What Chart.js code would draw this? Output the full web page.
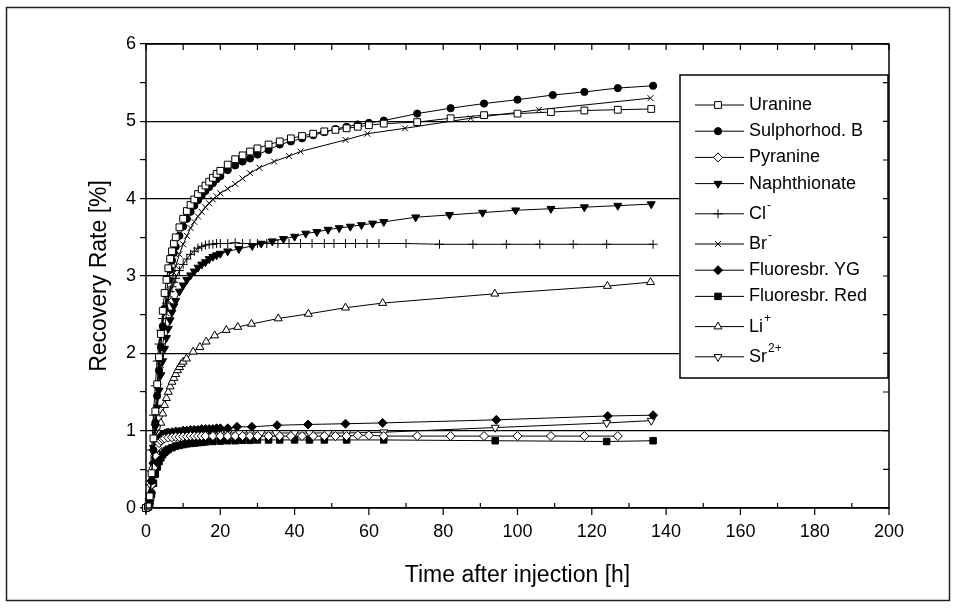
<!DOCTYPE html>
<html>
<head>
<meta charset="utf-8">
<script src="https://cdn.jsdelivr.net/npm/chart.js@4.4.1/dist/chart.umd.min.js"></script>
<style>
  html, body { margin: 0; padding: 0; background: #fff; }
</style>
</head>
<body>
<canvas id="canvas" width="956" height="610"></canvas>
<script>
// [hours after injection, recovery rate %]
var uranine = [[0,0],[0.5,0.02],[1,0.15],[1.5,0.45],[2,0.9],[2.5,1.25],[3,1.6],[3.5,1.95],[4,2.25],[4.5,2.55],[5,2.78],[5.5,2.95],[6,3.1],[6.5,3.22],[7,3.32],[7.5,3.42],[8,3.5],[9,3.63],[10,3.74],[11,3.84],[12,3.92],[13,3.99],[14,4.06],[15,4.12],[16,4.17],[17,4.22],[18,4.27],[19,4.32],[20,4.36],[22,4.44],[24,4.51],[26,4.56],[28,4.61],[30,4.65],[33,4.7],[36,4.74],[39,4.78],[42,4.81],[45,4.84],[48,4.87],[51,4.89],[54,4.91],[57,4.93],[60,4.95],[64,4.97],[73,4.99],[82,5.04],[91,5.08],[100,5.1],[109,5.12],[118,5.14],[127,5.15],[136,5.16]];
var sulphorhodB = [[0,0],[0.5,0.01],[1,0.1],[1.5,0.35],[2,0.75],[2.5,1.1],[3,1.45],[3.5,1.78],[4,2.08],[4.5,2.35],[5,2.58],[5.5,2.78],[6,2.95],[6.5,3.08],[7,3.2],[7.5,3.3],[8,3.38],[9,3.52],[10,3.64],[11,3.74],[12,3.83],[13,3.91],[14,3.98],[15,4.04],[16,4.1],[17,4.15],[18,4.2],[19,4.25],[20,4.29],[22,4.37],[24,4.43],[26,4.48],[28,4.52],[30,4.57],[33,4.63],[36,4.7],[39,4.74],[42,4.78],[45,4.82],[48,4.86],[51,4.9],[54,4.93],[57,4.96],[60,4.98],[64,5.01],[73,5.1],[82,5.17],[91,5.23],[100,5.28],[109.5,5.34],[118,5.38],[127,5.43],[136.5,5.46]];
var pyranine = [[0,0],[0.5,0.02],[1,0.1],[1.5,0.3],[2,0.52],[2.5,0.68],[3,0.78],[3.5,0.84],[4,0.87],[4.5,0.89],[5,0.9],[6,0.91],[7,0.915],[8,0.92],[9,0.92],[10,0.925],[11,0.925],[12,0.93],[13,0.93],[14,0.93],[15,0.93],[16,0.93],[18,0.93],[20,0.93],[22,0.93],[24,0.93],[26,0.93],[28,0.93],[30,0.93],[33,0.93],[36,0.93],[39,0.93],[42,0.93],[45,0.93],[48,0.93],[51,0.93],[54,0.93],[57,0.94],[60,0.94],[64,0.93],[73,0.93],[82,0.93],[91,0.93],[100,0.93],[109,0.93],[118,0.93],[127,0.93]];
var naphthionate = [[0,0],[0.5,0.01],[1,0.15],[1.5,0.45],[2,0.78],[2.5,1.05],[3,1.3],[3.5,1.52],[4,1.72],[4.5,1.9],[5,2.06],[5.5,2.2],[6,2.32],[6.5,2.43],[7,2.53],[7.5,2.61],[8,2.68],[9,2.8],[10,2.88],[11,2.95],[12,3.01],[13,3.06],[14,3.11],[15,3.15],[16,3.18],[17,3.22],[18,3.25],[19,3.27],[20,3.29],[22,3.32],[25,3.35],[28.6,3.39],[31,3.42],[34,3.45],[37,3.48],[40,3.51],[43,3.55],[46,3.57],[49,3.6],[52,3.62],[55,3.64],[58,3.66],[61,3.68],[64,3.7],[72.6,3.76],[81.7,3.79],[90.6,3.82],[99.5,3.85],[109,3.87],[118,3.89],[127,3.91],[136,3.93]];
var chloride = [[0,0],[0.5,0.02],[1,0.3],[1.5,0.75],[2,1.2],[2.5,1.58],[3,1.9],[3.5,2.12],[4,2.3],[4.5,2.45],[5,2.56],[5.5,2.65],[6,2.73],[6.5,2.8],[7,2.86],[7.5,2.92],[8,2.97],[9,3.07],[10,3.15],[11,3.22],[12,3.28],[13,3.32],[14,3.36],[15,3.38],[16,3.4],[17,3.41],[18,3.41],[19,3.42],[20,3.42],[22,3.42],[24,3.43],[26,3.42],[28,3.42],[30,3.42],[32.5,3.42],[35.5,3.42],[38.5,3.42],[41.6,3.42],[44.7,3.42],[48,3.42],[50.6,3.42],[53.7,3.42],[56.4,3.42],[59.5,3.42],[62.7,3.42],[70,3.42],[79,3.41],[88,3.41],[97,3.41],[106,3.41],[115,3.41],[124,3.41],[136.5,3.41]];
var bromide = [[0,0],[0.5,0.01],[1,0.08],[1.5,0.3],[2,0.62],[2.5,0.95],[3,1.27],[3.5,1.57],[4,1.85],[4.5,2.1],[5,2.32],[5.5,2.52],[6,2.68],[6.5,2.82],[7,2.94],[7.5,3.04],[8,3.13],[9,3.28],[10,3.41],[11,3.52],[12,3.62],[13,3.7],[14,3.77],[15,3.83],[16,3.89],[17,3.94],[18,3.99],[19,4.03],[20,4.07],[22,4.13],[24,4.19],[26,4.26],[28,4.33],[30.5,4.4],[34.5,4.48],[38.5,4.55],[41.6,4.61],[53.7,4.76],[59.6,4.84],[69.7,4.91],[87.4,5.04],[105.8,5.15],[135.8,5.3]];
var fluoresbrYG = [[0,0],[0.5,0.02],[1,0.12],[1.5,0.35],[2,0.58],[2.5,0.75],[3,0.85],[3.5,0.9],[4,0.93],[4.5,0.95],[5,0.96],[5.5,0.97],[6,0.975],[7,0.98],[8,0.99],[9,0.99],[10,1.0],[11,1.0],[12,1.01],[13,1.01],[14,1.01],[15,1.02],[16,1.02],[17,1.02],[18,1.02],[19,1.03],[20,1.03],[22,1.03],[24.5,1.05],[28.5,1.05],[35.3,1.07],[43.6,1.08],[53.7,1.09],[63.7,1.1],[94.3,1.14],[124.3,1.19],[136.5,1.2]];
var fluoresbrRed = [[0,0],[0.5,0.01],[1,0.05],[1.5,0.18],[2,0.32],[2.5,0.44],[3,0.53],[3.5,0.6],[4,0.65],[4.5,0.69],[5,0.72],[5.5,0.74],[6,0.76],[7,0.78],[8,0.8],[9,0.81],[10,0.82],[11,0.83],[12,0.835],[13,0.84],[14,0.845],[15,0.85],[16,0.855],[18,0.86],[20,0.865],[22,0.87],[24,0.87],[26,0.875],[28,0.875],[30,0.88],[33,0.88],[36,0.88],[40,0.88],[44,0.88],[48,0.88],[54,0.88],[64,0.88],[94,0.87],[124,0.86],[136.5,0.87]];
var lithium = [[0,0],[0.5,0.01],[1,0.08],[1.5,0.22],[2,0.42],[2.5,0.62],[3,0.8],[3.5,0.96],[4,1.1],[4.5,1.22],[5,1.33],[5.5,1.42],[6,1.5],[6.5,1.57],[7,1.63],[7.5,1.68],[8,1.73],[8.5,1.78],[9,1.82],[9.5,1.86],[10,1.89],[10.9,1.93],[12.7,2.02],[14.5,2.08],[16.2,2.15],[18.5,2.23],[21.6,2.3],[24.7,2.34],[28.4,2.38],[35.6,2.45],[43.7,2.51],[53.7,2.59],[63.7,2.65],[93.9,2.77],[124.2,2.87],[135.8,2.92]];
var strontium = [[0,0],[0.5,0.02],[1,0.1],[1.5,0.32],[2,0.55],[2.5,0.72],[3,0.82],[3.5,0.87],[4,0.9],[4.5,0.92],[5,0.93],[6,0.94],[7,0.945],[8,0.95],[9,0.95],[10,0.955],[11,0.96],[12,0.96],[14,0.96],[16,0.965],[18,0.97],[20,0.97],[22,0.97],[25,0.97],[28,0.97],[31,0.97],[35,0.97],[40,0.97],[44,0.97],[49,0.97],[54,0.97],[64,0.98],[94,1.04],[124,1.1],[136,1.13]];

var tracerNames = ['Uranine', 'Sulphorhod. B', 'Pyranine', 'Naphthionate', 'Cl', 'Br', 'Fluoresbr. YG', 'Fluoresbr. Red', 'Li', 'Sr'];
var tracerCharges = ['', '', '', '', '-', '-', '', '', '+', '2+'];
var tracerSeries = [uranine, sulphorhodB, pyranine, naphthionate, chloride, bromide, fluoresbrYG, fluoresbrRed, lithium, strontium];
var yTicks = [0, 1, 2, 3, 4, 5, 6];

// marker look per tracer
var markers = [
    { style: 'rect', rot: 0, r: 4.8, filled: false },
    { style: 'circle', rot: 0, r: 3.6, filled: true },
    { style: 'rectRot', rot: 0, r: 4.5, filled: false },
    { style: 'triangle', rot: 180, r: 4.6, filled: true },
    { style: 'cross', rot: 0, r: 4.5, filled: false },
    { style: 'crossRot', rot: 0, r: 4.2, filled: false },
    { style: 'rectRot', rot: 0, r: 4.5, filled: true },
    { style: 'rect', rot: 0, r: 4.6, filled: true },
    { style: 'triangle', rot: 0, r: 4.6, filled: false },
    { style: 'triangle', rot: 180, r: 4.6, filled: false }
];

var family = "'Liberation Sans', Arial, sans-serif";

var datasets = tracerSeries.map(function(series, i) {
    var m = markers[i];
    return {
        label: tracerNames[i] + tracerCharges[i],
        data: series.map(function(p) { return { x: p[0], y: p[1] }; }),
        borderColor: '#000',
        borderWidth: 1,
        pointStyle: m.style,
        pointRotation: m.rot,
        pointRadius: m.r,
        pointBorderWidth: 1,
        pointBorderColor: '#000',
        pointBackgroundColor: m.filled ? '#000' : '#fff',
        tension: 0,
        clip: 8
    };
});

// legend box in the upper right of the plot
var legendBox = {
    id: 'legendBox',
    afterDatasetsDraw: function(chart) {
        var ctx = chart.ctx;
        var area = chart.chartArea;
        var left = area.right - 209, top = area.top + 31;
        ctx.save();
        ctx.fillStyle = '#fff';
        ctx.fillRect(left, top, 208, 303);
        ctx.strokeStyle = '#000';
        ctx.lineWidth = 1.5;
        ctx.strokeRect(left, top, 208, 303);

        var y = top + 30;
        tracerNames.forEach(function(name, i) {
            if (i > 0) y += 26.2 + (tracerCharges[i] ? 4 : 0);
            var m = markers[i];
            ctx.strokeStyle = '#000';
            ctx.lineWidth = 1;
            ctx.beginPath();
            ctx.moveTo(left + 15, y);
            ctx.lineTo(left + 64, y);
            ctx.stroke();
            ctx.fillStyle = m.filled ? '#000' : '#fff';
            Chart.helpers.drawPoint(ctx, { pointStyle: m.style, rotation: m.rot, radius: m.r, borderWidth: 1 }, left + 38, y);

            ctx.fillStyle = '#000';
            ctx.font = '18px ' + family;
            ctx.textBaseline = 'middle';
            ctx.textAlign = 'left';
            ctx.fillText(name, left + 69, y);
            if (tracerCharges[i]) {
                var w = ctx.measureText(name).width;
                ctx.font = '12px ' + family;
                ctx.fillText(tracerCharges[i], left + 70 + w, y - 8);
            }
        });
        ctx.restore();
    }
};

// frame, inward ticks on top/right/bottom and the outer border
var frameTicks = {
    id: 'frameTicks',
    afterDraw: function(chart) {
        var ctx = chart.ctx;
        var a = chart.chartArea;
        var xs = chart.scales.x, ys = chart.scales.y;
        ctx.save();
        ctx.strokeStyle = '#000';
        ctx.lineWidth = 1.5;
        ctx.strokeRect(a.left, a.top, a.right - a.left, a.bottom - a.top);
        ctx.lineWidth = 1.2;
        ctx.beginPath();
        for (var h = 0; h <= 200; h += 10) {
            var px = xs.getPixelForValue(h);
            ctx.moveTo(px, a.top);
            ctx.lineTo(px, a.top + 6);
            if (h % 20 === 0) {
                ctx.moveTo(px, a.bottom);
                ctx.lineTo(px, a.bottom + 7);
            } else {
                ctx.moveTo(px, a.bottom);
                ctx.lineTo(px, a.bottom - 5);
            }
        }
        for (var v = 0; v <= 6; v += 0.5) {
            var py = ys.getPixelForValue(v);
            ctx.moveTo(a.right, py);
            ctx.lineTo(a.right - 6, py);
        }
        ctx.stroke();
        ctx.lineWidth = 1.5;
        ctx.strokeStyle = '#222';
        ctx.strokeRect(6.5, 7.5, 943, 593);
        ctx.restore();
    }
};

var ctx = document.getElementById('canvas').getContext('2d');
var chart = new Chart(ctx, {
    type: 'line',
    data: { datasets: datasets },
    plugins: [legendBox, frameTicks],
    options: {
        responsive: false,
        animation: false,
        devicePixelRatio: 1,
        layout: { padding: { left: 0, top: 44, right: 67, bottom: 0 } },
        plugins: {
            legend: { display: false },
            tooltip: { enabled: false }
        },
        scales: {
            x: {
                type: 'linear',
                min: 0,
                max: 200,
                grid: { display: false, drawTicks: false },
                border: { display: false },
                ticks: {
                    stepSize: 20,
                    padding: 13,
                    maxRotation: 0,
                    color: '#000',
                    font: { family: family, size: 18 }
                },
                title: {
                    display: true,
                    text: 'Time after injection [h]',
                    color: '#000',
                    font: { family: family, size: 23 },
                    padding: { top: 0, bottom: 21 }
                },
                afterFit: function(scale) { scale.height = 102; }
            },
            y: {
                type: 'linear',
                min: 0,
                max: 6,
                grid: {
                    color: function(c) { return c.tick && yTicks.indexOf(c.tick.value) >= 0 ? '#000' : 'rgba(0,0,0,0)'; },
                    tickColor: '#000',
                    lineWidth: 1.2,
                    tickLength: 6
                },
                border: { display: false },
                ticks: {
                    stepSize: 0.5,
                    autoSkip: false,
                    padding: 4,
                    color: '#000',
                    font: { family: family, size: 18 },
                    callback: function(v) { return yTicks.indexOf(v) >= 0 ? v : ''; }
                },
                title: {
                    display: true,
                    text: 'Recovery Rate [%]',
                    color: '#000',
                    font: { family: family, size: 23 },
                    padding: { top: 86, bottom: 0 }
                },
                afterFit: function(scale) { scale.width = 146; }
            }
        }
    }
});
</script>
</body>
</html>
